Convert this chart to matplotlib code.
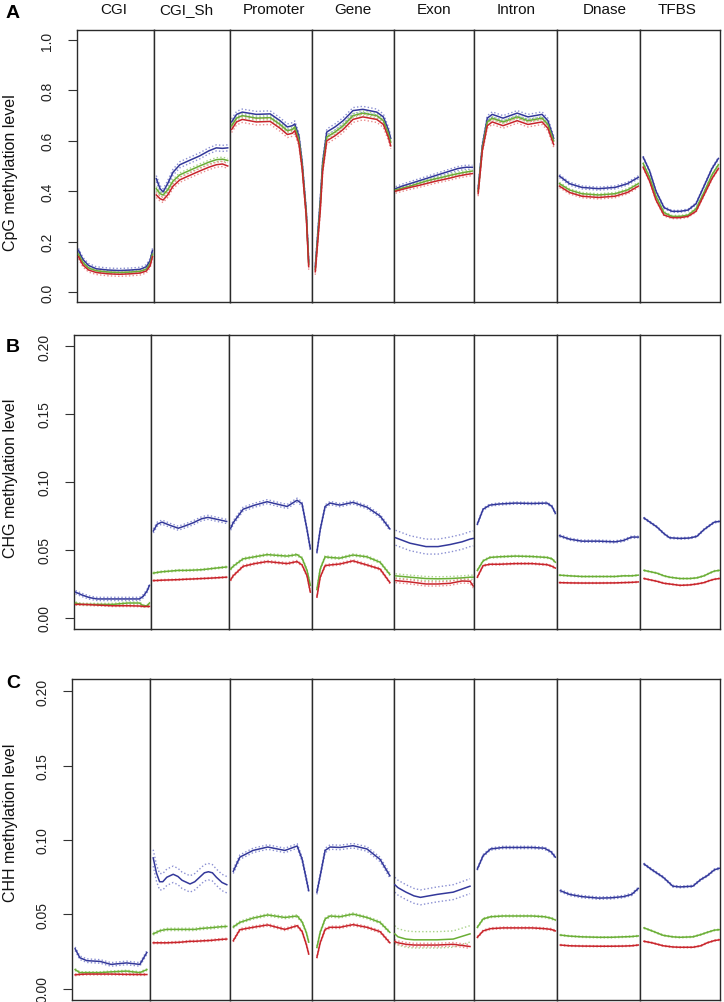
import numpy as np
import matplotlib.pyplot as plt

plt.rcParams['font.family'] = ['Liberation Sans', 'DejaVu Sans']
NARROW = ['Liberation Sans Narrow', 'Liberation Sans', 'DejaVu Sans']

regions = ['CGI', 'CGI_Sh', 'Promoter', 'Gene', 'Exon', 'Intron', 'Dnase', 'TFBS']

# ---------------- A: CpG ----------------
cpg_x = {
    'CGI': [0.02, 0.05, 0.08, 0.15, 0.25, 0.4, 0.55, 0.7, 0.82, 0.9, 0.95, 0.98],
    'CGI_Sh': [0.03, 0.08, 0.12, 0.18, 0.25, 0.34, 0.45, 0.6, 0.72, 0.82, 0.9, 0.97],
    'Promoter': [0.02, 0.08, 0.15, 0.32, 0.49, 0.61, 0.7, 0.76, 0.79, 0.84, 0.88, 0.93, 0.96],
    'Gene': [0.04, 0.10, 0.13, 0.18, 0.28, 0.38, 0.50, 0.62, 0.79, 0.87, 0.93, 0.96],
    'Exon': [0.02, 0.1, 0.2, 0.3, 0.4, 0.5, 0.6, 0.7, 0.8, 0.9, 0.98],
    'Intron': [0.05, 0.10, 0.16, 0.22, 0.35, 0.52, 0.65, 0.82, 0.89, 0.96],
    'Dnase': [0.03, 0.15, 0.3, 0.5, 0.7, 0.85, 0.98],
    'TFBS': [0.04, 0.12, 0.2, 0.3, 0.4, 0.5, 0.6, 0.7, 0.8, 0.9, 0.98],
}
cpg_blue = {
    'CGI': [0.165, 0.145, 0.128, 0.105, 0.092, 0.087, 0.085, 0.087, 0.09, 0.1, 0.125, 0.165],
    'CGI_Sh': [0.45, 0.41, 0.397, 0.43, 0.475, 0.505, 0.52, 0.54, 0.56, 0.572, 0.57, 0.572],
    'Promoter': [0.675, 0.705, 0.714, 0.705, 0.707, 0.68, 0.655, 0.66, 0.667, 0.62, 0.515, 0.32, 0.12],
    'Gene': [0.10, 0.36, 0.515, 0.635, 0.655, 0.68, 0.72, 0.725, 0.714, 0.695, 0.645, 0.61],
    'Exon': [0.41, 0.42, 0.43, 0.44, 0.45, 0.46, 0.47, 0.48, 0.49, 0.495, 0.495],
    'Intron': [0.41, 0.58, 0.69, 0.705, 0.69, 0.71, 0.695, 0.705, 0.68, 0.61],
    'Dnase': [0.46, 0.43, 0.415, 0.41, 0.415, 0.43, 0.455],
    'TFBS': [0.535, 0.48, 0.40, 0.335, 0.32, 0.32, 0.325, 0.35, 0.42, 0.49, 0.53],
}
cpg_green = {
    'CGI': [0.15, 0.132, 0.116, 0.095, 0.084, 0.079, 0.077, 0.079, 0.082, 0.09, 0.113, 0.15],
    'CGI_Sh': [0.41, 0.39, 0.385, 0.405, 0.44, 0.465, 0.48, 0.50, 0.515, 0.525, 0.527, 0.522],
    'Promoter': [0.66, 0.69, 0.70, 0.69, 0.692, 0.665, 0.64, 0.645, 0.655, 0.605, 0.50, 0.31, 0.11],
    'Gene': [0.09, 0.34, 0.50, 0.615, 0.635, 0.66, 0.70, 0.71, 0.70, 0.68, 0.63, 0.595],
    'Exon': [0.405, 0.412, 0.42, 0.43, 0.44, 0.448, 0.455, 0.463, 0.47, 0.476, 0.48],
    'Intron': [0.40, 0.57, 0.675, 0.69, 0.675, 0.695, 0.68, 0.69, 0.665, 0.60],
    'Dnase': [0.43, 0.405, 0.39, 0.385, 0.39, 0.405, 0.43],
    'TFBS': [0.51, 0.455, 0.38, 0.315, 0.30, 0.30, 0.305, 0.33, 0.395, 0.465, 0.505],
}
cpg_red = {
    'CGI': [0.14, 0.122, 0.106, 0.087, 0.077, 0.072, 0.07, 0.072, 0.075, 0.083, 0.104, 0.14],
    'CGI_Sh': [0.385, 0.37, 0.365, 0.385, 0.42, 0.445, 0.46, 0.48, 0.495, 0.505, 0.508, 0.50],
    'Promoter': [0.645, 0.675, 0.685, 0.675, 0.677, 0.65, 0.625, 0.63, 0.64, 0.59, 0.49, 0.30, 0.10],
    'Gene': [0.08, 0.32, 0.48, 0.60, 0.62, 0.645, 0.685, 0.695, 0.685, 0.665, 0.615, 0.58],
    'Exon': [0.40, 0.407, 0.415, 0.422, 0.43, 0.438, 0.445, 0.452, 0.46, 0.466, 0.47],
    'Intron': [0.39, 0.56, 0.66, 0.675, 0.66, 0.68, 0.665, 0.675, 0.65, 0.585],
    'Dnase': [0.42, 0.395, 0.38, 0.375, 0.38, 0.395, 0.42],
    'TFBS': [0.495, 0.44, 0.365, 0.305, 0.295, 0.295, 0.30, 0.32, 0.385, 0.45, 0.49],
}
# half width of the dotted band (blue, green, red)
cpg_band = {
    'CGI': (0.008, 0.006, 0.008), 'CGI_Sh': (0.012, 0.008, 0.010),
    'Promoter': (0.012, 0.008, 0.012), 'Gene': (0.012, 0.008, 0.012),
    'Exon': (0.008, 0.006, 0.008), 'Intron': (0.010, 0.006, 0.010),
    'Dnase': (0.006, 0.005, 0.006), 'TFBS': (0.004, 0.004, 0.004),
}

# ---------------- B: CHG ----------------
chg_x = {
    'CGI': [0.02, 0.1, 0.2, 0.3, 0.5, 0.7, 0.85, 0.9, 0.95, 0.98],
    'CGI_Sh': [0.03, 0.08, 0.14, 0.25, 0.35, 0.45, 0.54, 0.65, 0.73, 0.85, 0.97],
    'Promoter': [0.02, 0.05, 0.17, 0.31, 0.46, 0.70, 0.82, 0.88, 0.94, 0.98],
    'Gene': [0.06, 0.10, 0.16, 0.22, 0.34, 0.50, 0.67, 0.83, 0.95],
    'Exon': [0.02, 0.2, 0.4, 0.55, 0.7, 0.85, 0.95, 0.99],
    'Intron': [0.04, 0.11, 0.19, 0.3, 0.5, 0.7, 0.88, 0.94, 0.98],
    'Dnase': [0.03, 0.15, 0.3, 0.5, 0.7, 0.8, 0.9, 0.98],
    'TFBS': [0.05, 0.21, 0.3, 0.37, 0.5, 0.62, 0.71, 0.8, 0.87, 0.93, 0.99],
}
chg_blue = {
    'CGI': [0.019, 0.017, 0.015, 0.014, 0.014, 0.014, 0.014, 0.016, 0.020, 0.024],
    'CGI_Sh': [0.064, 0.069, 0.0705, 0.068, 0.066, 0.068, 0.070, 0.073, 0.074, 0.0725, 0.071],
    'Promoter': [0.066, 0.070, 0.080, 0.083, 0.0855, 0.082, 0.0866, 0.084, 0.065, 0.051],
    'Gene': [0.0485, 0.065, 0.082, 0.0845, 0.083, 0.085, 0.0815, 0.075, 0.0655],
    'Exon': [0.059, 0.055, 0.0525, 0.0525, 0.054, 0.056, 0.058, 0.0585],
    'Intron': [0.069, 0.080, 0.083, 0.0838, 0.0845, 0.0842, 0.0845, 0.082, 0.077],
    'Dnase': [0.0605, 0.058, 0.0565, 0.0565, 0.056, 0.057, 0.0595, 0.0595],
    'TFBS': [0.0735, 0.067, 0.062, 0.059, 0.0585, 0.0588, 0.060, 0.065, 0.068, 0.0705, 0.071],
}
chg_green = {
    'CGI': [0.011, 0.010, 0.010, 0.010, 0.010, 0.011, 0.011, 0.009, 0.009, 0.011],
    'CGI_Sh': [0.033, 0.0335, 0.034, 0.0345, 0.035, 0.035, 0.0352, 0.0355, 0.036, 0.0368, 0.0375],
    'Promoter': [0.036, 0.038, 0.0435, 0.045, 0.0466, 0.0455, 0.0466, 0.044, 0.035, 0.024],
    'Gene': [0.021, 0.036, 0.045, 0.0445, 0.044, 0.0463, 0.045, 0.041, 0.032],
    'Exon': [0.031, 0.030, 0.029, 0.0288, 0.029, 0.0295, 0.030, 0.030],
    'Intron': [0.035, 0.042, 0.0445, 0.045, 0.0455, 0.0452, 0.0445, 0.0435, 0.041],
    'Dnase': [0.0315, 0.031, 0.0305, 0.0305, 0.0305, 0.031, 0.031, 0.0315],
    'TFBS': [0.035, 0.033, 0.031, 0.030, 0.029, 0.029, 0.0295, 0.031, 0.033, 0.0345, 0.035],
}
chg_red = {
    'CGI': [0.010, 0.010, 0.0098, 0.0095, 0.009, 0.009, 0.0088, 0.0085, 0.0085, 0.0085],
    'CGI_Sh': [0.0275, 0.0276, 0.0278, 0.028, 0.0282, 0.0285, 0.0287, 0.029, 0.0292, 0.0296, 0.030],
    'Promoter': [0.028, 0.031, 0.038, 0.040, 0.0415, 0.040, 0.0415, 0.039, 0.031, 0.019],
    'Gene': [0.0155, 0.030, 0.0385, 0.039, 0.0397, 0.042, 0.039, 0.036, 0.026],
    'Exon': [0.0275, 0.0265, 0.025, 0.025, 0.0255, 0.0272, 0.027, 0.0235],
    'Intron': [0.030, 0.0385, 0.0395, 0.0395, 0.040, 0.040, 0.0392, 0.038, 0.0367],
    'Dnase': [0.026, 0.0258, 0.0257, 0.0257, 0.0258, 0.026, 0.0262, 0.0265],
    'TFBS': [0.029, 0.027, 0.0255, 0.025, 0.024, 0.0243, 0.025, 0.026, 0.0275, 0.0285, 0.029],
}
chg_band = {
    'CGI': (0.0012, 0.0008, 0.0006), 'CGI_Sh': (0.0015, 0.0006, 0.0005),
    'Promoter': (0.0015, 0.0008, 0.0008), 'Gene': (0.0012, 0.0008, 0.0008),
    'Exon': (0.0055, 0.0015, 0.0015), 'Intron': (0.0008, 0.0006, 0.0006),
    'Dnase': (0.0008, 0.0004, 0.0004), 'TFBS': (0.0006, 0.0004, 0.0004),
}

# ---------------- C: CHH ----------------
chh_x = {
    'CGI': [0.04, 0.1, 0.19, 0.36, 0.5, 0.7, 0.87, 0.96],
    'CGI_Sh': [0.04, 0.08, 0.12, 0.16, 0.21, 0.29, 0.35, 0.4, 0.5, 0.56, 0.62, 0.68, 0.73, 0.78, 0.83, 0.9, 0.96],
    'Promoter': [0.04, 0.12, 0.28, 0.46, 0.67, 0.82, 0.88, 0.93, 0.96],
    'Gene': [0.06, 0.10, 0.16, 0.22, 0.34, 0.50, 0.67, 0.83, 0.95],
    'Exon': [0.01, 0.05, 0.15, 0.25, 0.33, 0.54, 0.74, 0.95],
    'Intron': [0.04, 0.11, 0.2, 0.35, 0.5, 0.7, 0.85, 0.93, 0.98],
    'Dnase': [0.04, 0.15, 0.3, 0.5, 0.65, 0.8, 0.9, 0.98],
    'TFBS': [0.05, 0.15, 0.29, 0.41, 0.5, 0.66, 0.76, 0.84, 0.93, 0.99],
}
chh_blue = {
    'CGI': [0.027, 0.021, 0.019, 0.0185, 0.0165, 0.0175, 0.0165, 0.0245],
    'CGI_Sh': [0.088, 0.078, 0.072, 0.072, 0.075, 0.077, 0.0755, 0.073, 0.0705, 0.072, 0.075, 0.078, 0.0787, 0.078, 0.075, 0.0715, 0.070],
    'Promoter': [0.079, 0.0885, 0.093, 0.0953, 0.093, 0.096, 0.087, 0.074, 0.066],
    'Gene': [0.065, 0.076, 0.093, 0.0953, 0.095, 0.0962, 0.094, 0.087, 0.076],
    'Exon': [0.070, 0.068, 0.065, 0.0625, 0.0615, 0.0635, 0.065, 0.069],
    'Intron': [0.0805, 0.0895, 0.094, 0.095, 0.095, 0.095, 0.0945, 0.092, 0.0885],
    'Dnase': [0.066, 0.0635, 0.062, 0.061, 0.0612, 0.062, 0.0635, 0.0675],
    'TFBS': [0.0839, 0.080, 0.075, 0.069, 0.0685, 0.069, 0.0735, 0.076, 0.080, 0.081],
}
chh_green = {
    'CGI': [0.013, 0.011, 0.011, 0.011, 0.0115, 0.012, 0.011, 0.013],
    'CGI_Sh': [0.037, 0.038, 0.039, 0.0395, 0.040, 0.040, 0.040, 0.040, 0.040, 0.040, 0.0405, 0.0408, 0.041, 0.0412, 0.0415, 0.0418, 0.042],
    'Promoter': [0.0416, 0.0447, 0.0476, 0.0497, 0.048, 0.049, 0.045, 0.038, 0.0315],
    'Gene': [0.028, 0.038, 0.047, 0.049, 0.0485, 0.0503, 0.048, 0.0447, 0.038],
    'Exon': [0.037, 0.035, 0.0335, 0.033, 0.033, 0.033, 0.0335, 0.037],
    'Intron': [0.0414, 0.047, 0.0485, 0.049, 0.049, 0.049, 0.0485, 0.0475, 0.0463],
    'Dnase': [0.0362, 0.0355, 0.035, 0.0347, 0.0347, 0.035, 0.0352, 0.0356],
    'TFBS': [0.041, 0.039, 0.036, 0.035, 0.0347, 0.035, 0.0365, 0.038, 0.0395, 0.0398],
}
chh_red = {
    'CGI': [0.0095, 0.0098, 0.010, 0.010, 0.010, 0.0098, 0.0097, 0.0097],
    'CGI_Sh': [0.031, 0.031, 0.031, 0.031, 0.031, 0.0312, 0.0313, 0.0315, 0.032, 0.032, 0.0322, 0.0324, 0.0325, 0.0327, 0.033, 0.0333, 0.0335],
    'Promoter': [0.0324, 0.0398, 0.0414, 0.043, 0.040, 0.0425, 0.0385, 0.030, 0.0235],
    'Gene': [0.0213, 0.031, 0.040, 0.0414, 0.0414, 0.0432, 0.0414, 0.0385, 0.031],
    'Exon': [0.0318, 0.031, 0.030, 0.0295, 0.0295, 0.0295, 0.030, 0.0285],
    'Intron': [0.0347, 0.039, 0.0405, 0.041, 0.041, 0.041, 0.0405, 0.040, 0.039],
    'Dnase': [0.0295, 0.029, 0.0288, 0.0287, 0.0287, 0.0288, 0.029, 0.0295],
    'TFBS': [0.032, 0.031, 0.029, 0.0282, 0.028, 0.028, 0.029, 0.031, 0.0325, 0.033],
}
chh_band = {
    'CGI': (0.0012, 0.0006, 0.0006), 'CGI_Sh': (0.0055, 0.0008, 0.0006),
    'Promoter': (0.0015, 0.0008, 0.0008), 'Gene': (0.0015, 0.0008, 0.0008),
    'Exon': (0.005, 0.0055, 0.0012), 'Intron': (0.0008, 0.0006, 0.0006),
    'Dnase': (0.0008, 0.0004, 0.0004), 'TFBS': (0.0006, 0.0004, 0.0004),
}

# colours: line, dotted band
cols = [('#33389a', '#8a8fd2'), ('#6aae35', '#a9d38a'), ('#c8242b', '#e98d8d')]

W, H = 724, 1003
fig = plt.figure(figsize=(W / 100, H / 100), dpi=100)

rows = [
    dict(x=cpg_x, ys=(cpg_blue, cpg_green, cpg_red), band=cpg_band,
         edges=[77, 154, 230, 312, 394, 474, 557, 640, 720], top=31, bot=303,
         ylim=(-0.04, 1.04), ticks=[0.0, 0.2, 0.4, 0.6, 0.8, 1.0], fmt='{:.1f}',
         letter='A', lety=14, ylabel='CpG methylation level', laby=173),
    dict(x=chg_x, ys=(chg_blue, chg_green, chg_red), band=chg_band,
         edges=[74, 151, 229, 312, 394, 474, 557, 640, 720], top=336, bot=630,
         ylim=(-0.0081, 0.2081), ticks=[0.0, 0.05, 0.10, 0.15, 0.20], fmt='{:.2f}',
         letter='B', lety=347, ylabel='CHG methylation level', laby=478),
    dict(x=chh_x, ys=(chh_blue, chh_green, chh_red), band=chh_band,
         edges=[72, 150, 230, 312, 394, 474, 557, 640, 720], top=680, bot=1001,
         ylim=(-0.0074, 0.2081), ticks=[0.0, 0.05, 0.10, 0.15, 0.20], fmt='{:.2f}',
         letter='C', lety=683, ylabel='CHH methylation level', laby=823),
]

for r in rows:
    e = r['edges']
    for i, reg in enumerate(regions):
        ax = fig.add_axes([e[i] / W, 1 - r['bot'] / H, (e[i + 1] - e[i]) / W,
                           (r['bot'] - r['top']) / H])
        xs = np.array(r['x'][reg])
        for k, (lc, bc) in enumerate(cols):
            y = np.array(r['ys'][k][reg])
            hw = r['band'][reg][k]
            ax.plot(xs, y + hw, color=bc, lw=1.0, ls=(0, (1, 1.6)), zorder=2)
            ax.plot(xs, y - hw, color=bc, lw=1.0, ls=(0, (1, 1.6)), zorder=2)
        for k, (lc, bc) in enumerate(cols):
            y = np.array(r['ys'][k][reg])
            ax.plot(xs, y, color=lc, lw=1.1, zorder=3)
        ax.set_xlim(0, 1)
        ax.set_ylim(*r['ylim'])
        ax.set_xticks([])
        for s in ax.spines.values():
            s.set_linewidth(1.0)
            s.set_color('#2a2a2a')
        if i == 0:
            ax.set_yticks(r['ticks'])
            ax.set_yticklabels([r['fmt'].format(t) for t in r['ticks']],
                               family=NARROW, fontsize=10, rotation=90, va='center')
            ax.tick_params(axis='y', length=6.5, width=0.8, color='#333333',
                           pad=10, labelcolor='#222222')
        else:
            ax.set_yticks([])
    fig.text(13 / W, 1 - r['lety'] / H, r['letter'], fontsize=14, fontweight='bold',
             ha='center', va='center')
    fig.text(11 / W, 1 - r['laby'] / H, r['ylabel'], family=NARROW, fontsize=11.5,
             rotation=90, ha='center', va='center', color='#111111')

title_x = [114, 186, 274, 353, 434, 516, 605, 677]
for tx, reg in zip(title_x, regions):
    fig.text(tx / W, 1 - 10 / H, reg, fontsize=11, ha='center', va='center',
             color='#111111')

fig.savefig('out.png', dpi=100, facecolor='white')
